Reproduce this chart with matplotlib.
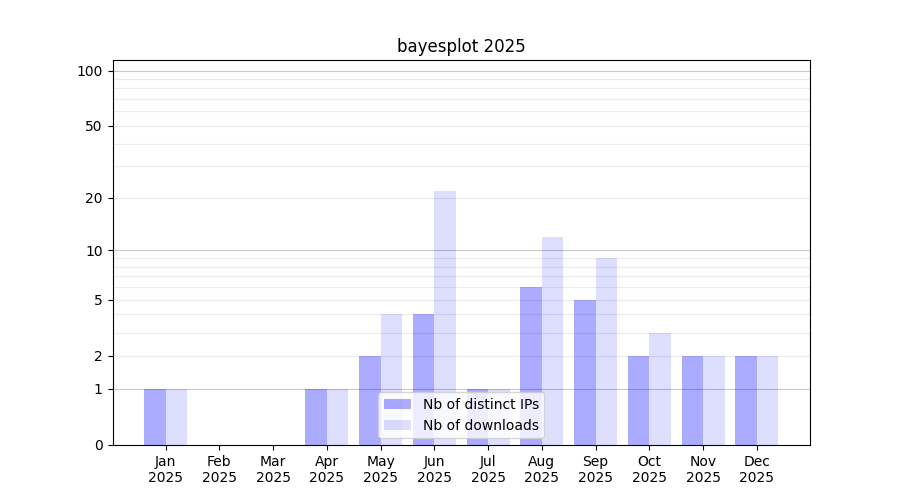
import numpy as np
import matplotlib
matplotlib.use("Agg")
import matplotlib.pyplot as plt

months = ["Jan", "Feb", "Mar", "Apr", "May", "Jun", "Jul", "Aug", "Sep", "Oct", "Nov", "Dec"]
year = "2025"
distinct_ips = [1, 0, 0, 1, 2, 4, 1, 6, 5, 2, 2, 2]
downloads = [1, 0, 0, 1, 4, 22, 1, 12, 9, 3, 2, 2]
yticks = [0, 1, 2, 5, 10, 20, 50, 100]

def fwd(v):
    return np.log10(1 + np.clip(v, 0, None))

def inv(v):
    return 10 ** v - 1

fig, ax = plt.subplots(figsize=(9, 5), dpi=100)
x = np.arange(len(months))
ax.set_yscale("function", functions=(fwd, inv))

for v in list(range(2, 10)) + list(range(20, 100, 10)):
    ax.axhline(v, color="#ebebeb", lw=0.8, zorder=0)
for v in [1, 10, 100]:
    ax.axhline(v, color="#c8c8c8", lw=0.8, zorder=0)

ax.bar(x - 0.4, distinct_ips, width=0.4, align="edge", color="blue", alpha=0.33,
       label="Nb of distinct IPs", zorder=1)
ax.bar(x, downloads, width=0.4, align="edge", color="blue", alpha=0.13,
       label="Nb of downloads", zorder=1)

ax.set_ylim(0, 114)
ax.set_yticks(yticks)
ax.set_yticklabels([str(t) for t in yticks])
ax.yaxis.set_minor_locator(matplotlib.ticker.NullLocator())
ax.set_xticks(x)
ax.set_xticklabels([f"{m}\n{year}" for m in months])
ax.set_title("bayesplot 2025")
ax.legend(loc="lower center")
fig.savefig("out.png", dpi=100)
